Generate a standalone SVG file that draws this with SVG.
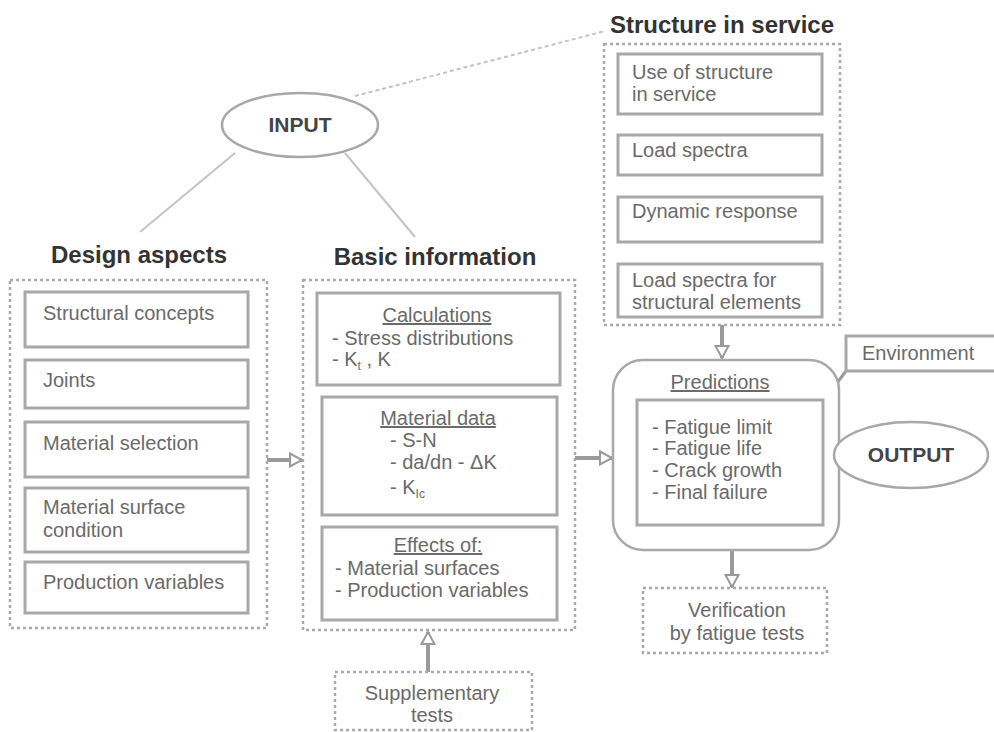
<svg xmlns="http://www.w3.org/2000/svg" width="994" height="732" viewBox="0 0 994 732">
<style>
.t{font-family:"Liberation Sans",Arial,sans-serif;font-size:20px;fill:#6a6a6a}
.c{text-anchor:middle}
.u{text-decoration:underline}
.h{font-family:"Liberation Sans",Arial,sans-serif;font-size:24px;font-weight:bold;fill:#333;text-anchor:middle}
.o{font-family:"Liberation Sans",Arial,sans-serif;font-size:21px;font-weight:bold;fill:#444;text-anchor:middle}
.bx{fill:#fff;stroke:#a8a8a8;stroke-width:3}
.dsh{fill:#fff;stroke:#aaa;stroke-width:2.5;stroke-dasharray:3 3}
.el{fill:#fff;stroke:#a8a8a8;stroke-width:2.5}
.ln{stroke:#c4c4c4;stroke-width:2;fill:none}
.stem{stroke:#9a9a9a;stroke-width:4;fill:none}
.stem2{stroke:#9a9a9a;stroke-width:3;fill:none}
</style>
<defs>
<marker id="ah" viewBox="0 0 16 16" markerWidth="16" markerHeight="16" refX="14" refY="8" orient="auto" markerUnits="userSpaceOnUse">
<path d="M2,1.5 L14,8 L2,14.5 Z" fill="#fff" stroke="#9a9a9a" stroke-width="2"/>
</marker>
<marker id="as" viewBox="0 0 12 12" markerWidth="11" markerHeight="11" refX="10" refY="6" orient="auto" markerUnits="userSpaceOnUse">
<path d="M2,1.5 L10,6 L2,10.5 Z" fill="#fff" stroke="#9a9a9a" stroke-width="1.8"/>
</marker>
</defs>
<rect width="994" height="732" fill="#fff"/>

<g id="connectors">
<line class="ln" x1="355" y1="96" x2="605" y2="31" stroke-dasharray="4 3"/>
<line class="ln" x1="235" y1="153" x2="140" y2="232"/>
<line class="ln" x1="345" y1="153" x2="415" y2="237"/>
<line class="stem" x1="267" y1="460" x2="302" y2="460" marker-end="url(#ah)"/>
<line class="stem" x1="575" y1="458" x2="612" y2="458" marker-end="url(#ah)"/>
<line class="stem" x1="722" y1="318" x2="722" y2="358" marker-end="url(#ah)"/>
<line class="stem" x1="732" y1="551" x2="732" y2="587" marker-end="url(#ah)"/>
<line class="stem" x1="428" y1="672" x2="428" y2="632" marker-end="url(#ah)"/>
<line class="stem2" x1="719" y1="115" x2="719" y2="134" marker-end="url(#as)"/>
<line class="stem2" x1="719" y1="175" x2="719" y2="196" marker-end="url(#as)"/>
<line class="stem2" x1="719" y1="242" x2="719" y2="263" marker-end="url(#as)"/>
<line class="stem2" x1="846" y1="371" x2="825" y2="399" marker-end="url(#as)"/>
</g>

<g id="input">
<ellipse class="el" cx="300" cy="125" rx="78" ry="32"/>
<text class="o" x="300" y="132">INPUT</text>
</g>

<g id="structure-in-service">
<text class="h" x="722" y="33">Structure in service</text>
<rect class="dsh" x="604" y="44" width="236" height="281"/>
</g>
<g id="use-of-structure">
<rect class="bx" x="618" y="54" width="204" height="60"/>
<text class="t" x="632" y="79">Use of structure</text>
<text class="t" x="632" y="101">in service</text>
</g>
<g id="load-spectra">
<rect class="bx" x="618" y="135" width="204" height="40"/>
<text class="t" x="632" y="157">Load spectra</text>
</g>
<g id="dynamic-response">
<rect class="bx" x="618" y="197" width="204" height="45"/>
<text class="t" x="632" y="218">Dynamic response</text>
</g>
<g id="load-spectra-elements">
<rect class="bx" x="618" y="264" width="204" height="53"/>
<text class="t" x="632" y="287">Load spectra for</text>
<text class="t" x="632" y="309">structural elements</text>
</g>

<g id="design-aspects">
<text class="h" x="139" y="263">Design aspects</text>
<rect class="dsh" x="10" y="280" width="257" height="348"/>
</g>
<g id="structural-concepts">
<rect class="bx" x="25" y="292" width="223" height="55"/>
<text class="t" x="43" y="320">Structural concepts</text>
</g>
<g id="joints">
<rect class="bx" x="25" y="360" width="223" height="48"/>
<text class="t" x="43" y="387">Joints</text>
</g>
<g id="material-selection">
<rect class="bx" x="25" y="422" width="223" height="55"/>
<text class="t" x="43" y="450">Material selection</text>
</g>
<g id="material-surface">
<rect class="bx" x="25" y="488" width="223" height="64"/>
<text class="t" x="43" y="514">Material surface</text>
<text class="t" x="43" y="537">condition</text>
</g>
<g id="production-variables">
<rect class="bx" x="25" y="562" width="223" height="51"/>
<text class="t" x="43" y="589">Production variables</text>
</g>

<g id="basic-information">
<text class="h" x="435" y="265">Basic information</text>
<rect class="dsh" x="303" y="280" width="272" height="350"/>
</g>
<g id="calculations">
<rect class="bx" x="317" y="293" width="243" height="92"/>
<text class="t c u" x="437" y="322">Calculations</text>
<text class="t" x="332" y="345">- Stress distributions</text>
<text class="t" x="332" y="366">- K<tspan font-size="12" dy="4">t</tspan><tspan dy="-4"> , K</tspan></text>
</g>
<g id="material-data">
<rect class="bx" x="322" y="397" width="235" height="118"/>
<text class="t c u" x="438" y="425">Material data</text>
<text class="t" x="390" y="447">- S-N</text>
<text class="t" x="390" y="469">- da/dn - ΔK</text>
<text class="t" x="390" y="494">- K<tspan font-size="12" dy="4">Ic</tspan></text>
</g>
<g id="effects-of">
<rect class="bx" x="322" y="527" width="235" height="93"/>
<text class="t c u" x="438" y="552">Effects of:</text>
<text class="t" x="335" y="575">- Material surfaces</text>
<text class="t" x="335" y="597">- Production variables</text>
</g>

<g id="supplementary-tests">
<rect class="dsh" x="335" y="672" width="197" height="58"/>
<text class="t c" x="432" y="700">Supplementary</text>
<text class="t c" x="432" y="722">tests</text>
</g>

<g id="predictions">
<rect x="613" y="360" width="226" height="190" rx="30" fill="#fff" stroke="#a8a8a8" stroke-width="2.5"/>
<text class="t c u" x="720" y="389">Predictions</text>
<rect class="bx" x="637" y="400" width="186" height="125"/>
<text class="t" x="652" y="434">- Fatigue limit</text>
<text class="t" x="652" y="455">- Fatigue life</text>
<text class="t" x="652" y="477">- Crack growth</text>
<text class="t" x="652" y="499">- Final failure</text>
</g>

<g id="environment">
<rect class="bx" x="846" y="336" width="160" height="35"/>
<text class="t" x="862" y="360">Environment</text>
</g>

<g id="output">
<ellipse class="el" cx="911" cy="455" rx="77" ry="33"/>
<text class="o" x="911" y="462">OUTPUT</text>
</g>

<g id="verification">
<rect class="dsh" x="643" y="588" width="184" height="65"/>
<text class="t c" x="737" y="617">Verification</text>
<text class="t c" x="737" y="640">by fatigue tests</text>
</g>
</svg>
